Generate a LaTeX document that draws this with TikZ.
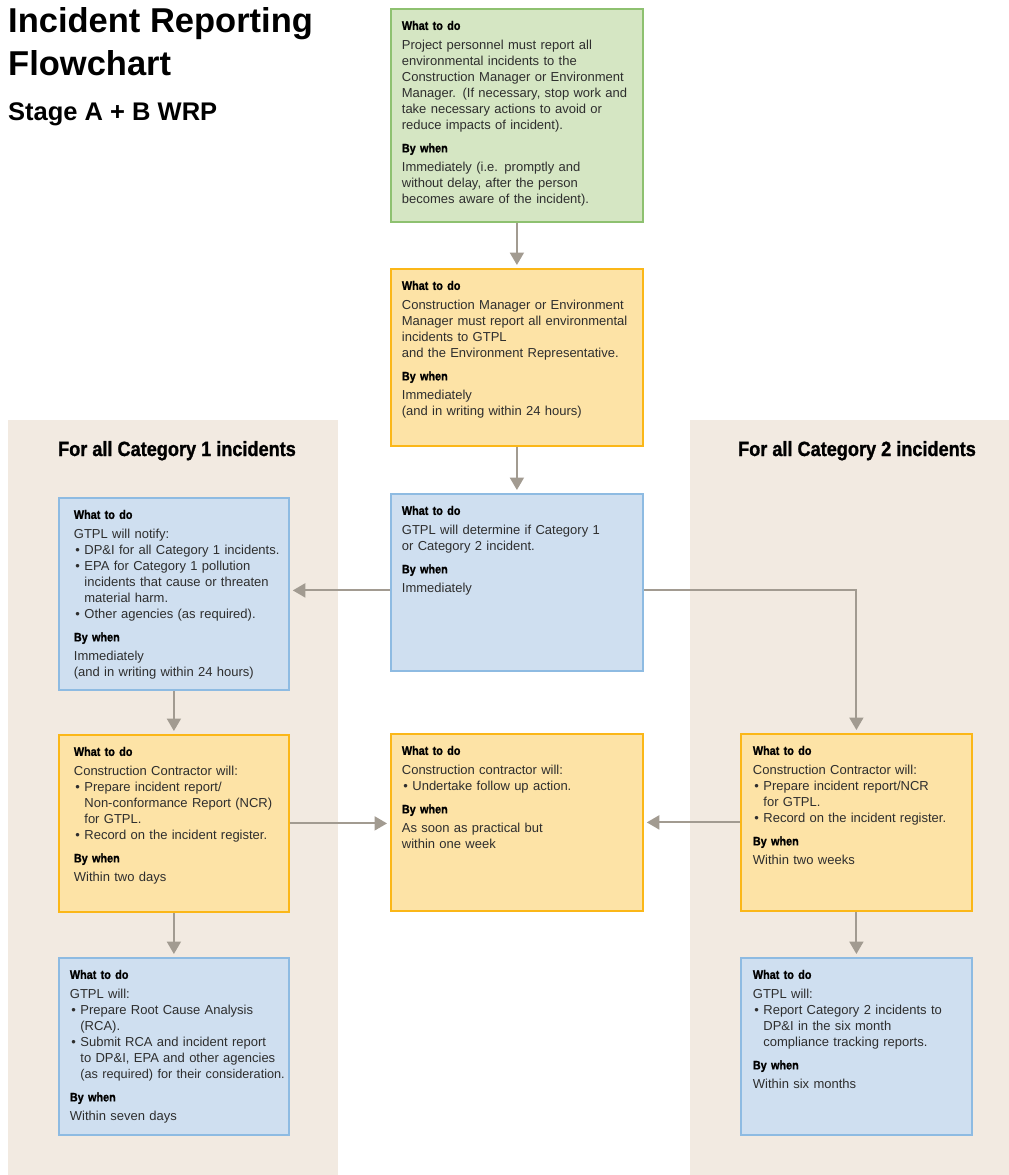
\documentclass[tikz,border=0pt]{standalone}
\usepackage{fontspec}
\setmainfont{Liberation Sans}
\newfontfamily\hdfamily{Liberation Sans Bold}[FakeStretch=0.88,FakeBold=1.2,WordSpace=0.75]
\newfontfamily\panelfamily{Liberation Sans Bold}[FakeStretch=0.88,FakeBold=1.2]
\usetikzlibrary{arrows.meta}
\definecolor{grfill}{HTML}{D5E6C3}
\definecolor{grline}{HTML}{8EC170}
\definecolor{amfill}{HTML}{FDE3A6}
\definecolor{amline}{HTML}{FBB718}
\definecolor{blfill}{HTML}{CFDFF0}
\definecolor{blline}{HTML}{8EBBE2}
\definecolor{panel}{HTML}{F2EAE1}
\definecolor{linkgray}{HTML}{A29B91}
\definecolor{txt}{HTML}{2E2E2E}
\newcommand{\hdfont}{\hdfamily\fontsize{12.3}{16}\selectfont\color{black}}
\newcommand{\bul}{\par\hangindent=10.5pt\hangafter=1\noindent\makebox[10.5pt][l]{\kern1.5pt\textbullet}}
\newcommand{\stagetext}[4]{\parbox[c][#1][t]{\linewidth}{\raggedright\leftskip=#2\relax\rightskip=-8pt plus 1fil\relax
\rule{0pt}{21pt}{\hdfont What to do}\par\vspace{4pt}
#3\par\vspace{6.5pt}
{\hdfont By when}\par\vspace{3pt}
#4\par}}
\begin{document}
\begin{tikzpicture}[x=1pt,y=-1pt,
  stage/.style={anchor=north west,inner sep=0pt,line width=1.8pt,text=txt,font=\fontsize{13}{16}\selectfont},
  greenstage/.style={stage,fill=grfill,draw=grline},
  amberstage/.style={stage,fill=amfill,draw=amline},
  bluestage/.style={stage,fill=blfill,draw=blline},
  panelhead/.style={anchor=base,inner sep=0pt,font=\panelfamily\fontsize{20.6}{24}\selectfont},
  titletext/.style={anchor=base west,inner sep=0pt,font=\fontsize{34.5}{40}\selectfont\bfseries},
  link/.style={draw=linkgray,line width=2pt,-{Triangle[width=14pt,length=12.5pt]},shorten >=3pt}]
\useasboundingbox (0,0) rectangle (1009,1175);
\fill[white] (0,0) rectangle (1009,1175);
\fill[panel] (8,420) rectangle (338,1175);
\fill[panel] (690,420) rectangle (1009,1175);
\node[titletext] (titleone) at (8,32) {Incident Reporting};
\node[titletext] (titletwo) at (8,75.5) {Flowchart};
\node[titletext,font=\fontsize{25.5}{30}\selectfont\bfseries] (subtitle) at (8,120) {Stage A + B WRP};
\node[panelhead] (catone) at (177,456) {For all Category 1 incidents};
\node[panelhead] (cattwo) at (857,456) {For all Category 2 incidents};
\node[greenstage,text width=252pt] (report) at (390,8) {\stagetext{213pt}{11pt}
 {Project personnel must report all\\ environmental incidents to the\\ Construction Manager or Environment\\ Manager. (If necessary, stop work and\\ take necessary actions to avoid or\\ reduce impacts of incident).}
 {Immediately (i.e. promptly and\\ without delay, after the person\\ becomes aware of the incident).}};
\node[amberstage,text width=252pt] (escalate) at (390,268) {\stagetext{177pt}{11pt}
 {Construction Manager or Environment\\ Manager must report all environmental\\ incidents to GTPL\\ and the Environment Representative.}
 {Immediately\\ (and in writing within 24 hours)}};
\node[bluestage,text width=252pt] (classify) at (390,493) {\stagetext{177pt}{11pt}
 {GTPL will determine if Category 1\\ or Category 2 incident.}
 {Immediately}};
\node[bluestage,text width=230pt] (notify) at (58,497) {\stagetext{192pt}{15pt}
 {GTPL will notify:
  \bul DP\&I for all Category 1 incidents.
  \bul EPA for Category 1 pollution\newline incidents that cause or threaten\newline material harm.
  \bul Other agencies (as required).}
 {Immediately\\ (and in writing within 24 hours)}};
\node[amberstage,text width=230pt] (ncrone) at (58,734) {\stagetext{177pt}{15pt}
 {Construction Contractor will:
  \bul Prepare incident report/\newline Non-conformance Report (NCR)\newline for GTPL.
  \bul Record on the incident register.}
 {Within two days}};
\node[bluestage,text width=230pt] (rca) at (58,957) {\stagetext{177pt}{11pt}
 {GTPL will:
  \bul Prepare Root Cause Analysis\newline (RCA).
  \bul Submit RCA and incident report\newline to DP\&I, EPA and other agencies\newline {\fontsize{12.7}{16}\selectfont(as required) for their consideration.}}
 {Within seven days}};
\node[amberstage,text width=252pt] (followup) at (390,733) {\stagetext{177pt}{11pt}
 {Construction contractor will:
  \bul Undertake follow up action.}
 {As soon as practical but\\ within one week}};
\node[amberstage,text width=231pt] (ncrtwo) at (740,733) {\stagetext{177pt}{12pt}
 {Construction Contractor will:
  \bul Prepare incident report/NCR\newline for GTPL.
  \bul Record on the incident register.}
 {Within two weeks}};
\node[bluestage,text width=231pt] (compliance) at (740,957) {\stagetext{177pt}{12pt}
 {GTPL will:
  \bul Report Category 2 incidents to\newline DP\&I in the six month\newline compliance tracking reports.}
 {Within six months}};
\draw[link] (report) -- (escalate);
\draw[link] (escalate) -- (classify);
\draw[link] ([yshift=-8pt]classify.west) -- ([yshift=-8pt]classify.west -| notify.east);
\draw[link] ([yshift=-8pt]classify.east) -| (ncrtwo.north);
\draw[link] (notify) -- (ncrone);
\draw[link] (ncrone) -- (rca);
\draw[link] (ncrone.east) -- (ncrone.east -| followup.west);
\draw[link] (ncrtwo.west) -- (ncrtwo.west -| followup.east);
\draw[link] (ncrtwo) -- (compliance);
\end{tikzpicture}
\end{document}
